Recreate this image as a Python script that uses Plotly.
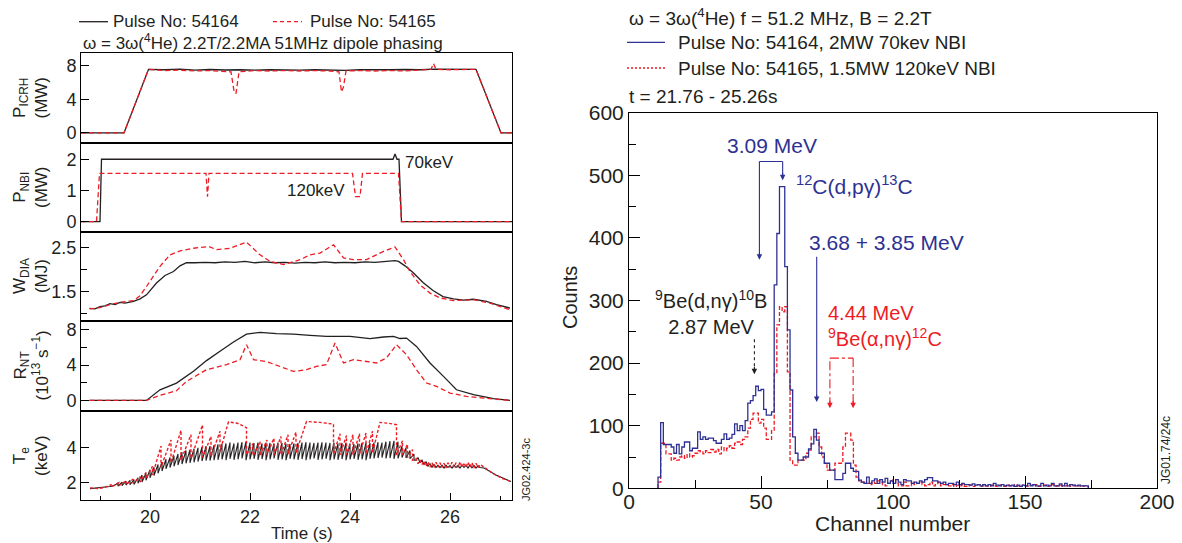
import plotly.graph_objects as go

# ================= DATA : left panels (time traces, s) =================
picrh_t_54164 = [18.62, 19.48, 19.97, 20.3, 20.6, 20.9, 21.2, 21.5, 21.8, 22.1, 22.4, 22.7, 23.0, 23.3,
                 23.6, 23.9, 24.2, 24.5, 24.8, 25.1, 25.4, 25.7, 26.0, 26.3, 26.52, 27.02, 27.24]
picrh_54164 = [0, 0, 7.6, 7.55, 7.62, 7.5, 7.58, 7.52, 7.55, 7.5, 7.55, 7.52, 7.5, 7.55,
               7.5, 7.48, 7.55, 7.52, 7.55, 7.58, 7.55, 7.62, 7.6, 7.65, 7.6, 0, 0]
picrh_t_54165 = [18.62, 19.48, 19.97, 20.3, 20.6, 20.9, 21.2, 21.5, 21.62, 21.68,
                 21.72, 21.78, 22.1, 22.4, 22.7, 23.0, 23.3, 23.6, 23.78, 23.83,
                 23.87, 23.92, 24.2, 24.5, 24.8, 25.1, 25.4, 25.62, 25.67, 25.72,
                 26.0, 26.3, 26.52, 27.02, 27.24]
picrh_54165 = [0, 0, 7.6, 7.45, 7.5, 7.4, 7.45, 7.4, 7.3, 5.0,
               4.7, 7.3, 7.45, 7.4, 7.45, 7.4, 7.45, 7.4, 7.3, 4.9,
               5.5, 7.4, 7.45, 7.4, 7.45, 7.4, 7.5, 7.6, 8.3, 7.6,
               7.55, 7.6, 7.6, 0, 0]

nbi_t_54164 = [18.62, 19.00, 19.03, 24.86, 24.90, 24.94, 24.98, 25.03, 27.24]
nbi_54164 = [0, 0, 2.0, 2.0, 2.17, 2.0, 2.0, 0, 0]
nbi_t_54165 = [18.62, 18.93, 18.99, 21.12, 21.15, 21.18, 24.05, 24.11, 24.20, 24.25, 24.97, 25.03, 27.24]
nbi_54165 = [0, 0, 1.55, 1.55, 0.8, 1.55, 1.55, 0.8, 0.8, 1.55, 1.55, 0, 0]

wdia_t_54164 = [18.79, 18.9, 19.0, 19.1, 19.2, 19.3, 19.4, 19.5, 19.67, 19.8,
                19.93, 20.13, 20.3, 20.47, 20.6, 20.73, 20.9, 21.1, 21.3, 21.5,
                21.7, 21.9, 22.1, 22.3, 22.5, 22.7, 22.9, 23.1, 23.3, 23.5,
                23.7, 23.9, 24.1, 24.3, 24.5, 24.7, 24.9, 24.97, 25.1, 25.26,
                25.46, 25.66, 25.86, 26.07, 26.27, 26.47, 26.6, 26.73, 26.93, 27.1, 27.2]
wdia_54164 = [1.11, 1.10, 1.15, 1.17, 1.22, 1.20, 1.25, 1.23, 1.27, 1.33,
              1.42, 1.69, 1.86, 1.95, 2.08, 2.15, 2.15, 2.16, 2.15, 2.17,
              2.16, 2.18, 2.15, 2.17, 2.15, 2.16, 2.14, 2.16, 2.15, 2.17,
              2.15, 2.16, 2.15, 2.17, 2.16, 2.18, 2.20, 2.18, 2.08, 1.93,
              1.70, 1.52, 1.38, 1.33, 1.30, 1.32, 1.29, 1.27, 1.20, 1.15, 1.12]
wdia_t_54165 = [18.79, 19.0, 19.2, 19.4, 19.67, 19.8, 19.93, 20.2, 20.4, 20.6,
                20.87, 21.17, 21.33, 21.6, 21.93, 22.2, 22.4, 22.67, 23.0, 23.2,
                23.4, 23.67, 23.87, 24.07, 24.33, 24.67, 24.9, 25.07, 25.2, 25.4,
                25.6, 25.8, 26.07, 26.47, 26.8, 27.2]
wdia_54165 = [1.10, 1.13, 1.20, 1.25, 1.29, 1.40, 1.61, 2.07, 2.33, 2.42,
              2.48, 2.52, 2.45, 2.48, 2.62, 2.33, 2.18, 2.11, 2.22, 2.33,
              2.37, 2.56, 2.26, 2.22, 2.22, 2.41, 2.51, 2.22, 1.95, 1.65,
              1.46, 1.35, 1.29, 1.31, 1.23, 1.08]

rnt_t_54164 = [18.79, 19.93, 20.2, 20.53, 20.87, 21.13, 21.4, 21.67, 21.93, 22.2,
               22.53, 22.87, 23.2, 23.53, 24.0, 24.4, 24.67, 24.87, 25.0, 25.13,
               25.33, 25.6, 25.87, 26.13, 26.47, 26.87, 27.2]
rnt_54164 = [0, 0, 1.2, 1.96, 3.3, 4.5, 5.55, 6.6, 7.5, 7.7,
             7.55, 7.5, 7.36, 7.25, 7.25, 6.98, 7.17, 7.25, 7.0, 7.05,
             6.1, 4.23, 2.72, 1.2, 0.64, 0.19, 0]
rnt_t_54165 = [18.79, 19.93, 20.2, 20.53, 20.73, 21.13, 21.53, 21.8, 21.93, 22.07,
               22.33, 22.67, 22.87, 23.13, 23.33, 23.53, 23.7, 23.87, 24.07, 24.33,
               24.53, 24.73, 24.93, 25.13, 25.33, 25.53, 25.73, 26.0, 26.33, 26.67, 27.2]
rnt_54165 = [0, 0, 0.57, 1.1, 2.15, 3.47, 4.04, 4.6, 6.3, 4.6,
             4.4, 3.66, 3.28, 3.47, 3.85, 4.04, 6.5, 4.23, 4.6, 4.4,
             4.23, 4.8, 6.3, 5.17, 3.47, 1.96, 1.58, 0.83, 0.45, 0.26, 0]

# Te 54164: ohmic start, sawtooth crashes (time, value before crash, value after crash), decay
te_pre_t_54164 = [18.80, 18.90, 19.00, 19.10, 19.20, 19.28]
te_pre_54164 = [1.68, 1.70, 1.72, 1.75, 1.80, 1.85]
saw_t_54164 = [19.36, 19.44, 19.52, 19.60, 19.68, 19.76, 19.84, 19.92, 20.00, 20.08,
               20.16, 20.24, 20.32, 20.40, 20.48, 20.56, 20.64, 20.72, 20.80, 20.88,
               20.96, 21.04, 21.12, 21.20, 21.28, 21.36, 21.44, 21.52, 21.60, 21.68,
               21.76, 21.84, 21.92, 22.00, 22.08, 22.16, 22.24, 22.32, 22.40, 22.48,
               22.56, 22.64, 22.72, 22.80, 22.88, 22.96, 23.04, 23.12, 23.20, 23.28,
               23.36, 23.44, 23.52, 23.60, 23.68, 23.76, 23.84, 23.92, 24.00, 24.08,
               24.16, 24.24, 24.32, 24.40, 24.48, 24.56, 24.64, 24.72, 24.80, 24.88,
               24.96, 25.04, 25.12, 25.20, 25.28]
saw_top_54164 = [2.00, 2.05, 2.10, 2.15, 2.20, 2.30, 2.45, 2.55, 2.75, 2.90,
                 3.05, 3.20, 3.35, 3.45, 3.55, 3.65, 3.75, 3.85, 3.90, 3.95,
                 4.00, 4.05, 4.10, 4.10, 4.15, 4.20, 4.22, 4.25, 4.30, 4.25,
                 4.30, 4.32, 4.35, 4.30, 4.28, 4.30, 4.25, 4.30, 4.28, 4.25,
                 4.30, 4.28, 4.25, 4.22, 4.25, 4.28, 4.30, 4.32, 4.30, 4.28,
                 4.30, 4.32, 4.30, 4.28, 4.30, 4.25, 4.28, 4.30, 4.25, 4.22,
                 4.25, 4.28, 4.30, 4.28, 4.30, 4.32, 4.30, 4.35, 4.38, 4.40,
                 4.35, 4.10, 4.00, 3.85, 3.65]
saw_bot_54164 = [1.82, 1.85, 1.88, 1.90, 1.92, 1.98, 2.05, 2.15, 2.30, 2.42,
                 2.55, 2.68, 2.80, 2.88, 2.95, 3.02, 3.08, 3.12, 3.15, 3.18,
                 3.22, 3.25, 3.28, 3.28, 3.30, 3.32, 3.35, 3.30, 3.38, 3.32,
                 3.35, 3.40, 3.30, 3.35, 3.38, 3.32, 3.36, 3.30, 3.35, 3.40,
                 3.32, 3.35, 3.30, 3.38, 3.35, 3.32, 3.36, 3.30, 3.35, 3.40,
                 3.32, 3.35, 3.38, 3.30, 3.35, 3.32, 3.36, 3.30, 3.35, 3.38,
                 3.32, 3.35, 3.30, 3.38, 3.40, 3.42, 3.45, 3.40, 3.42, 3.38,
                 3.40, 3.45, 3.42, 3.38, 3.30]
te_post_t_54164 = [25.32, 25.36, 25.40, 25.44, 25.48, 25.52, 25.56, 25.60, 25.64, 25.68,
                   25.72, 25.76, 25.80, 25.84, 25.88, 25.92, 25.96, 26.00, 26.04, 26.08,
                   26.12, 26.16, 26.20, 26.24, 26.28, 26.32, 26.36, 26.40, 26.44, 26.48,
                   26.52, 26.56, 26.60, 26.68, 26.76, 26.84, 26.92, 27.00, 27.08, 27.16, 27.22]
te_post_54164 = [3.30, 3.45, 3.15, 3.30, 3.05, 3.20, 2.95, 3.10, 2.90, 3.05,
                 2.88, 3.02, 2.88, 3.02, 2.85, 3.02, 2.88, 3.00, 2.85, 3.02,
                 2.88, 3.00, 2.85, 3.02, 2.88, 3.00, 2.85, 3.02, 2.86, 3.00,
                 2.85, 2.98, 2.88, 2.85, 2.70, 2.55, 2.45, 2.35, 2.25, 2.15, 2.08]

te_t_54165 = [18.80, 18.95, 19.10, 19.22, 19.22, 19.38, 19.38, 19.52, 19.52, 19.66,
              19.66, 19.80, 19.80, 19.92, 19.92, 20.05, 20.05, 20.22, 20.22, 20.42,
              20.42, 20.62, 20.62, 20.82, 20.82, 21.05, 21.05, 21.22, 21.22, 21.40,
              21.40, 21.57, 21.75, 21.93, 21.93, 22.06, 22.06, 22.20, 22.20, 22.34,
              22.34, 22.48, 22.48, 22.62, 22.62, 22.76, 22.76, 22.92, 22.92, 23.13,
              23.40, 23.67, 23.67, 23.80, 23.80, 23.93, 23.93, 24.06, 24.06, 24.19,
              24.19, 24.32, 24.32, 24.45, 24.45, 24.60, 24.78, 24.93, 24.93, 25.05,
              25.05, 25.15, 25.15, 25.25, 25.25, 25.32, 25.36, 25.40, 25.44, 25.48,
              25.52, 25.56, 25.60, 25.64, 25.68, 25.72, 25.76, 25.80, 25.84, 25.88,
              25.92, 25.96, 26.00, 26.04, 26.08, 26.12, 26.16, 26.20, 26.24, 26.28,
              26.32, 26.36, 26.40, 26.44, 26.48, 26.52, 26.56, 26.60, 26.66, 26.75,
              26.85, 26.95, 27.05, 27.15, 27.22]
te_54165 = [1.72, 1.68, 1.75, 1.90, 1.78, 2.02, 1.85, 2.12, 1.90, 2.22,
            1.98, 2.35, 2.05, 2.60, 2.25, 2.95, 2.45, 4.10, 2.90, 4.45,
            3.15, 5.00, 3.30, 4.75, 3.40, 5.30, 3.45, 4.65, 3.50, 4.95,
            3.80, 5.48, 5.40, 5.15, 3.60, 4.25, 3.55, 4.35, 3.55, 4.45,
            3.60, 4.55, 3.60, 4.65, 3.60, 4.75, 3.65, 4.90, 3.70, 5.50,
            5.45, 5.35, 3.65, 4.80, 3.60, 4.70, 3.60, 4.75, 3.60, 4.80,
            3.65, 4.85, 3.65, 4.95, 3.70, 5.45, 5.40, 5.32, 3.60, 4.40,
            3.60, 4.20, 3.45, 3.90, 3.30, 3.40, 3.10, 3.30, 3.05, 3.25,
            2.95, 3.20, 2.90, 3.15, 2.88, 3.18, 2.90, 3.15, 2.88, 3.12,
            2.85, 3.15, 2.88, 3.18, 2.90, 3.15, 2.88, 3.20, 2.90, 3.15,
            2.88, 3.18, 2.90, 3.15, 2.85, 3.12, 2.88, 3.05, 2.95, 2.75,
            2.55, 2.40, 2.25, 2.15, 2.08]

# ================= DATA : right panel (gamma spectrum) =================
first_channel = 11
counts_54164 = [18, 105, 70, 70, 70, 66, 56, 70, 55, 66,
                74, 74, 60, 64, 64, 90, 78, 82, 78, 80,
                80, 76, 72, 72, 78, 87, 78, 80, 86, 103,
                92, 100, 92, 108, 136, 140, 148, 163, 156, 158,
                126, 117, 117, 122, 325, 407, 482, 482, 354, 253,
                157, 82, 56, 45, 45, 50, 50, 63, 71, 94,
                77, 56, 56, 40, 40, 29, 29, 14, 14, 14,
                24, 40, 40, 32, 27, 27, 13, 10, 8, 18,
                8, 12, 15, 8, 14, 10, 16, 8, 12, 8,
                14, 10, 6, 14, 12, 12, 8, 10, 8, 12,
                10, 14, 17, 17, 12, 12, 10, 8, 10, 6,
                8, 8, 6, 10, 6, 8, 6, 6, 5, 7,
                5, 6, 4, 6, 4, 6, 4, 8, 5, 4,
                6, 4, 5, 4, 5, 3, 5, 3, 5, 4,
                8, 4, 6, 4, 4, 8, 4, 5, 4, 8,
                4, 4, 7, 4, 8, 4, 6, 5, 4, 5,
                4, 4, 4]
counts_54165 = [10, 72, 72, 55, 55, 45, 48, 45, 50, 52,
                48, 55, 50, 52, 56, 60, 58, 55, 60, 57,
                62, 58, 62, 55, 66, 60, 64, 68, 64, 72,
                74, 70, 78, 82, 96, 110, 120, 120, 104, 110,
                96, 78, 78, 92, 183, 261, 290, 282, 290, 186,
                45, 37, 37, 45, 45, 45, 56, 61, 82, 82,
                88, 66, 50, 40, 29, 29, 29, 40, 40, 40,
                66, 88, 88, 77, 37, 18, 12, 10, 10, 8,
                6, 10, 8, 12, 10, 6, 4, 8, 12, 14,
                8, 4, 4, 10, 4, 4, 10, 6, 8, 10,
                6, 4, 6, 10, 4, 6, 10, 4, 6, 6,
                4, 6, 3, 5, 4, 6, 3, 4, 5, 3,
                4, 6, 3, 5, 4, 3, 5, 4, 3, 5,
                4, 3, 5, 4, 3, 6, 4, 3, 5, 4,
                3, 5, 4, 6, 3, 4, 5, 3, 4, 6,
                3, 4, 5, 3, 4, 6, 3, 4, 5, 4,
                3, 4, 3]

# ================= STYLE / LAYOUT =================
W, H = 1182, 543
FONT = "Liberation Sans, Arial, Helvetica, sans-serif"
BLACK = "#231f20"
RED = "#ed1c24"
BLUE = "#2e3192"


def PX(x):
    return x / W


def PY(y):
    return 1 - y / H


fig = go.Figure()

# ---- left panels ----
panel_px = [(53, 143), (143, 232), (232, 321), (321, 411), (411, 500)]
left_series = [
    (picrh_t_54164, picrh_54164, picrh_t_54165, picrh_54165),
    (nbi_t_54164, nbi_54164, nbi_t_54165, nbi_54165),
    (wdia_t_54164, wdia_54164, wdia_t_54165, wdia_54165),
    (rnt_t_54164, rnt_54164, rnt_t_54165, rnt_54165),
]

for i, (tb, vb, tr, vr) in enumerate(left_series):
    xa = "x" if i == 0 else f"x{i + 1}"
    ya = "y" if i == 0 else f"y{i + 1}"
    fig.add_trace(go.Scatter(x=tb, y=vb, xaxis=xa, yaxis=ya, mode="lines",
                             line=dict(color=BLACK, width=1.3), name="Pulse No: 54164", showlegend=False))
    fig.add_trace(go.Scatter(x=tr, y=vr, xaxis=xa, yaxis=ya, mode="lines",
                             line=dict(color=RED, width=1.3, dash="5px,3px"), name="Pulse No: 54165",
                             showlegend=False))

# Te panel: build black sawtooth from the read crash list
te_bx, te_by = list(te_pre_t_54164), list(te_pre_54164)
for t, top, bot in zip(saw_t_54164, saw_top_54164, saw_bot_54164):
    te_bx += [t, t]
    te_by += [top, bot]
te_bx += te_post_t_54164
te_by += te_post_54164
fig.add_trace(go.Scatter(x=te_bx, y=te_by, xaxis="x5", yaxis="y5", mode="lines",
                         line=dict(color=BLACK, width=1.1), name="Pulse No: 54164", showlegend=False))
fig.add_trace(go.Scatter(x=te_t_54165, y=te_54165, xaxis="x5", yaxis="y5", mode="lines",
                         line=dict(color=RED, width=1.4, dash="3px,2px"), name="Pulse No: 54165",
                         showlegend=False))

# ---- right panel: step histograms ----
edges = list(range(first_channel, first_channel + len(counts_54164) + 1))
for vals, color, dash, nm in [(counts_54165, RED, "4px,2px", "Pulse No: 54165"),
                              (counts_54164, BLUE, None, "Pulse No: 54164")]:
    xs = [edges[0]] + edges + [edges[-1]]
    ys = [0] + list(vals) + [vals[-1], 0]
    fig.add_trace(go.Scatter(x=xs, y=ys, xaxis="x6", yaxis="y6", mode="lines", line_shape="hv",
                             line=dict(color=color, width=1.3, dash=dash), name=nm, showlegend=False))

# ---- axes ----
axis_common = dict(showline=True, linecolor="black", linewidth=1, mirror=True, showgrid=False,
                   zeroline=False, tickcolor="black", tickfont=dict(family=FONT, size=18, color=BLACK))
LX = [PX(81), PX(512)]
yranges = [[-1.2, 9.55], [-0.33, 2.52], [0.825, 2.85], [-1.2, 8.98], [1.03, 6.1]]
yticks = [[0, 4, 8], [0, 1, 2], [1.5, 2.5], [0, 4, 8], [2, 4]]
yminor = [[], [], [1.0, 2.0], [2, 6], []]
layout_axes = {}
for i in range(5):
    top, bot = panel_px[i]
    xk = "xaxis" if i == 0 else f"xaxis{i + 1}"
    yk = "yaxis" if i == 0 else f"yaxis{i + 1}"
    xa = "x" if i == 0 else f"x{i + 1}"
    ya = "y" if i == 0 else f"y{i + 1}"
    xd = dict(axis_common, domain=LX, range=[18.62, 27.24], anchor=ya)
    if i == 4:
        xd.update(tickmode="array", tickvals=[20, 22, 24, 26], ticks="inside", ticklen=7,
                  minor=dict(tickmode="array", tickvals=[19, 21, 23, 25, 27], ticks="inside",
                             ticklen=4, tickcolor="black"))
    else:
        xd.update(showticklabels=False, ticks="")
    yd = dict(axis_common, domain=[PY(bot), PY(top)], range=yranges[i], anchor=xa,
              tickmode="array", tickvals=yticks[i], ticks="inside", ticklen=8)
    if yminor[i]:
        yd["minor"] = dict(tickmode="array", tickvals=yminor[i], ticks="inside", ticklen=6,
                           tickcolor="black")
    layout_axes[xk] = xd
    layout_axes[yk] = yd

layout_axes["xaxis6"] = dict(axis_common, domain=[PX(629), PX(1157)], range=[0, 200], anchor="y6",
                             tickmode="array", tickvals=[0, 50, 100, 150, 200], ticks="inside", ticklen=12,
                             ticklabelstandoff=-6,
                             tickfont=dict(family=FONT, size=21, color=BLACK),
                             minor=dict(tickmode="array", tickvals=[25, 75, 125, 175], ticks="inside",
                                        ticklen=8, tickcolor="black"))
layout_axes["yaxis6"] = dict(axis_common, domain=[PY(488.3), PY(112.7)], range=[0, 600], anchor="x6",
                             tickmode="array", tickvals=[0, 100, 200, 300, 400, 500, 600], ticks="inside",
                             ticklen=11, tickfont=dict(family=FONT, size=21, color=BLACK),
                             minor=dict(tickmode="array", tickvals=[50, 150, 250, 350, 450, 550],
                                        ticks="inside", ticklen=7, tickcolor="black"))

fig.update_layout(width=W, height=H, margin=dict(l=0, r=0, t=0, b=0), template="none",
                  paper_bgcolor="white", plot_bgcolor="white", showlegend=False,
                  font=dict(family=FONT, color=BLACK), **layout_axes)

annots = []
shapes = []


def txt(x, y, s, size, color=BLACK, xanchor="center", angle=0, **kw):
    annots.append(dict(x=PX(x), y=PY(y), xref="paper", yref="paper", text=s, showarrow=False,
                       xanchor=xanchor, yanchor="middle", textangle=angle,
                       font=dict(family=FONT, size=size, color=color), **kw))


# left header / legend
shapes.append(dict(type="line", xref="paper", yref="paper", x0=PX(79), x1=PX(108), y0=PY(21.7), y1=PY(21.7),
                   line=dict(color=BLACK, width=1.3)))
txt(111, 21.7, "Pulse No: 54164", 17, xanchor="left")
shapes.append(dict(type="line", xref="paper", yref="paper", x0=PX(273), x1=PX(302), y0=PY(21.7), y1=PY(21.7),
                   line=dict(color=RED, width=1.3, dash="4px,3px")))
txt(308, 21.7, "Pulse No: 54165", 17, xanchor="left")
txt(81, 41.7, "ω = 3ω(<sup>4</sup>He) 2.2T/2.2MA 51MHz dipole phasing", 17, xanchor="left")

# left y titles
ytitles = ["P<sub>ICRH</sub><br>(MW)", "P<sub>NBI</sub><br>(MW)", "W<sub>DIA</sub><br>(MJ)",
           "R<sub>NT</sub><br>(10<sup>13</sup> s<sup>−1</sup>)", "T<sub>e</sub><br>(keV)"]
for (top, bot), s in zip(panel_px, ytitles):
    txt(30.5, (top + bot) / 2, s, 17, angle=-90)
txt(301.7, 533, "Time (s)", 17)
txt(526, 470, "JG02.424-3c", 11, angle=-90)

# NBI labels
annots.append(dict(x=25.06, y=1.89, xref="x2", yref="y2", text="70keV", showarrow=False, xanchor="left",
                   font=dict(family=FONT, size=17, color=BLACK)))
annots.append(dict(x=23.32, y=1.0, xref="x2", yref="y2", text="120keV", showarrow=False, xanchor="center",
                   font=dict(family=FONT, size=17, color=BLACK)))

# right header / legend
txt(627, 16.7, "ω = 3ω(<sup>4</sup>He) f = 51.2 MHz, B = 2.2T", 19, xanchor="left")
shapes.append(dict(type="line", xref="paper", yref="paper", x0=PX(627), x1=PX(665), y0=PY(42.3), y1=PY(42.3),
                   line=dict(color=BLUE, width=1.3)))
txt(676, 42.3, "Pulse No: 54164, 2MW 70kev NBI", 19, xanchor="left")
shapes.append(dict(type="line", xref="paper", yref="paper", x0=PX(627), x1=PX(665), y0=PY(68), y1=PY(68),
                   line=dict(color=RED, width=1.3, dash="2px,2px")))
txt(676, 68.3, "Pulse No: 54165, 1.5MW 120keV NBI", 19, xanchor="left")
txt(627, 96.7, "t = 21.76 - 25.26s", 19, xanchor="left")
txt(893, 523, "Channel number", 21)
txt(570, 298, "Counts", 20, angle=-90)
txt(1166, 450, "JG01.74/24c", 12, angle=-90)


def dtxt(x, y, s, color, xanchor="center", size=21, align="center"):
    annots.append(dict(x=x, y=y, xref="x6", yref="y6", text=s, showarrow=False, xanchor=xanchor,
                       yanchor="middle", align=align, font=dict(family=FONT, size=size, color=color)))


def dline(x0, y0, x1, y1, color, dash=None):
    shapes.append(dict(type="line", xref="x6", yref="y6", x0=x0, y0=y0, x1=x1, y1=y1,
                       line=dict(color=color, width=1.1, dash=dash)))


def head(x, y, color):
    annots.append(dict(x=x, y=y, xref="x6", yref="y6", text="", showarrow=True, ax=0, ay=-9,
                       arrowhead=2, arrowsize=1, arrowwidth=1.1, arrowcolor=color, standoff=0))


dtxt(54.3, 548, "3.09 MeV", BLUE)
dline(49.4, 368, 49.4, 522, BLUE)
dline(49.4, 522, 58.2, 522, BLUE)
dline(58.2, 522, 58.2, 495, BLUE)
head(49.4, 365, BLUE)
head(58.2, 492, BLUE)
dtxt(62.6, 484, "<sup>12</sup>C(d,pγ)<sup>13</sup>C", BLUE, xanchor="left")
dtxt(67.6, 392, "3.68 + 3.85 MeV", BLUE, xanchor="left")
dline(71.1, 370, 71.1, 141, BLUE)
head(71.1, 138, BLUE)

dtxt(31.0, 281, "<sup>9</sup>Be(d,nγ)<sup>10</sup>B<br>2.87 MeV", BLACK, size=20)
dline(47.5, 238, 47.5, 186, BLACK, dash="dot")
head(47.5, 182, BLACK)

dtxt(74.8, 260, "4.44 MeV<br><sup>9</sup>Be(α,nγ)<sup>12</sup>C", RED, xanchor="left", size=20, align="left")
dline(76.1, 131, 76.1, 208, RED, dash="dashdot")
dline(76.1, 208, 84.9, 208, RED, dash="dashdot")
dline(84.9, 208, 84.9, 131, RED, dash="dashdot")
head(76.1, 128, RED)
head(84.9, 128, RED)

fig.update_layout(annotations=annots, shapes=shapes)
fig.write_html("out.html", config={"displayModeBar": False},
               post_script="document.body.style.margin='0';document.body.style.overflow='hidden';")
